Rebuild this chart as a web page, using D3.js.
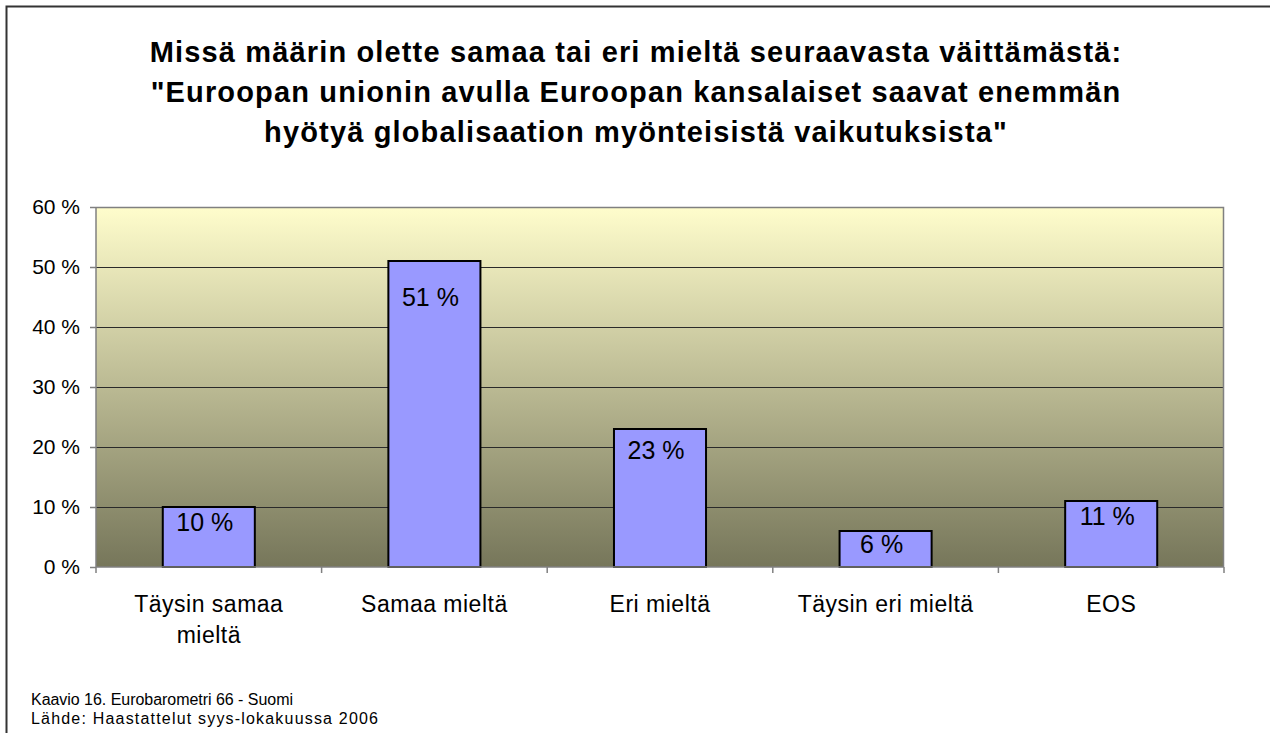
<!DOCTYPE html>
<html>
<head>
<meta charset="utf-8">
<script src="https://cdn.jsdelivr.net/npm/d3@7"></script>
<style>
  body { margin: 0; background: #fff; }
  svg { display: block; font-family: "Liberation Sans", Arial, sans-serif; }
</style>
</head>
<body>
<svg id="chart" width="1270" height="733"></svg>
<script>
// data
var categories = ["Täysin samaa mieltä", "Samaa mieltä", "Eri mieltä", "Täysin eri mieltä", "EOS"];
var values = [0.10, 0.51, 0.23, 0.06, 0.11];
var yTicks = [0, 0.1, 0.2, 0.3, 0.4, 0.5, 0.6];
var titleLines = [
  "Missä määrin olette samaa tai eri mieltä seuraavasta väittämästä:",
  "\"Euroopan unionin avulla Euroopan kansalaiset saavat enemmän",
  "hyötyä globalisaation myönteisistä vaikutuksista\""
];
var footLines = ["Kaavio 16. Eurobarometri 66 - Suomi", "Lähde: Haastattelut syys-lokakuussa 2006"];

var margin = {top: 207, right: 46, bottom: 166, left: 96},
    W = 1270, H = 733,
    width = W - margin.left - margin.right,
    height = H - margin.top - margin.bottom;

var svg = d3.select("#chart");

// outer frame (right/bottom edges fall outside the picture)
svg.append("rect")
    .attr("x", 6.5).attr("y", 6.5)
    .attr("width", W + 20).attr("height", H + 20)
    .attr("fill", "none")
    .style("stroke", "#333")
    .style("stroke-width", 2);

// title
svg.append("text")
    .attr("text-anchor", "middle")
    .style("font-size", "29px")
    .style("font-weight", "bold")
    .style("letter-spacing", "1.15px")
    .selectAll("tspan")
    .data(titleLines)
    .enter().append("tspan")
    .attr("x", 636)
    .attr("y", function(d, i) { return 62 + i * 40; })
    .text(function(d) { return d; });

var defs = svg.append("defs");
var grad = defs.append("linearGradient")
    .attr("id", "bg")
    .attr("x1", 0).attr("y1", 0).attr("x2", 0).attr("y2", 1);
grad.append("stop").attr("offset", "0%").attr("stop-color", "#fffdcc");
grad.append("stop").attr("offset", "100%").attr("stop-color", "#76765a");

var x = d3.scaleBand()
    .domain(categories)
    .range([0, width])
    .paddingInner(0.592)
    .paddingOuter(0.296);

var y = d3.scaleLinear()
    .domain([0, 0.6])
    .range([height, 0]);

var g = svg.append("g")
    .attr("transform", "translate(" + margin.left + "," + margin.top + ")");

// plot background
g.append("rect")
    .attr("width", width)
    .attr("height", height)
    .attr("fill", "url(#bg)");

// gridlines
g.append("g")
    .selectAll("line")
    .data(yTicks.filter(function(d) { return d > 0 && d < 0.6; }))
    .enter().append("line")
    .attr("x1", 0).attr("x2", width)
    .attr("y1", function(d) { return y(d); })
    .attr("y2", function(d) { return y(d); })
    .style("stroke", "#2a2a2a")
    .style("stroke-width", 1)
    .style("shape-rendering", "crispEdges");

// plot border top/right
g.append("path")
    .attr("d", "M0,0.5H" + (width - 0.5) + "V" + height)
    .attr("fill", "none")
    .style("stroke", "#808080")
    .style("stroke-width", 1.5);

// bars
g.selectAll(".bar")
    .data(values)
    .enter().append("rect")
    .attr("class", "bar")
    .attr("x", function(d, i) { return x(categories[i]); })
    .attr("y", function(d) { return y(d); })
    .attr("width", x.bandwidth())
    .attr("height", function(d) { return height - y(d); })
    .attr("fill", "#9999ff")
    .style("stroke", "#000")
    .style("stroke-width", 2);

// value labels near the top of each bar
g.selectAll(".lbl")
    .data(values)
    .enter().append("text")
    .attr("class", "lbl")
    .attr("x", function(d, i) { return x(categories[i]) + x.bandwidth() / 2 - 4; })
    .attr("y", function(d) { var h = height - y(d); return y(d) + 10 + 0.085 * h; })
    .attr("dy", "0.35em")
    .attr("text-anchor", "middle")
    .style("font-size", "25px")
    .text(function(d) { return Math.round(d * 100) + " %"; });

// y axis
var yAxis = d3.axisLeft(y)
    .tickValues(yTicks)
    .tickSize(6)
    .tickPadding(10)
    .tickFormat(function(d) { return Math.round(d * 100) + " %"; });

var ya = g.append("g").call(yAxis);
ya.select(".domain").attr("d", "M0," + height + "V0").style("stroke", "#808080").style("stroke-width", 1.5);
ya.selectAll(".tick line").style("stroke", "#808080").style("stroke-width", 1.5);
ya.selectAll("text").style("font-size", "21px").style("fill", "#000").style("font-family", "Liberation Sans, Arial, sans-serif");

// x axis line with separators between categories
g.append("line")
    .attr("x1", 0).attr("x2", width)
    .attr("y1", height).attr("y2", height)
    .style("stroke", "#808080")
    .style("stroke-width", 1.5);

g.selectAll(".sep")
    .data(d3.range(categories.length + 1))
    .enter().append("line")
    .attr("class", "sep")
    .attr("x1", function(i) { return i * x.step(); })
    .attr("x2", function(i) { return i * x.step(); })
    .attr("y1", height).attr("y2", height + 6)
    .style("stroke", "#808080")
    .style("stroke-width", 1.5);

// category labels, wrapped
var cat = g.selectAll(".cat")
    .data(categories)
    .enter().append("text")
    .attr("class", "cat")
    .attr("text-anchor", "middle")
    .style("font-size", "23px")
    .style("letter-spacing", "0.5px")
    .attr("transform", function(d) { return "translate(" + (x(d) + x.bandwidth() / 2) + "," + (height + 45) + ")"; });

cat.each(function(d) {
  var t = d3.select(this),
      words = d.split(" "),
      line = [], lineNo = 0,
      ts = t.append("tspan").attr("x", 0).attr("y", 0);
  words.forEach(function(w) {
    line.push(w);
    ts.text(line.join(" "));
    if (ts.node().getComputedTextLength() > 195 && line.length > 1) {
      line.pop();
      ts.text(line.join(" "));
      line = [w];
      lineNo++;
      ts = t.append("tspan").attr("x", 0).attr("y", lineNo * 31).text(w);
    }
  });
});

// footer (Excel stretched these lines unevenly)
var footLen = [262, 347];
svg.append("g")
    .selectAll("text")
    .data(footLines)
    .enter().append("text")
    .attr("x", 31)
    .attr("y", function(d, i) { return 705 + i * 19; })
    .attr("textLength", function(d, i) { return footLen[i]; })
    .attr("lengthAdjust", "spacing")
    .style("font-size", "16px")
    .text(function(d) { return d; });
</script>
</body>
</html>
